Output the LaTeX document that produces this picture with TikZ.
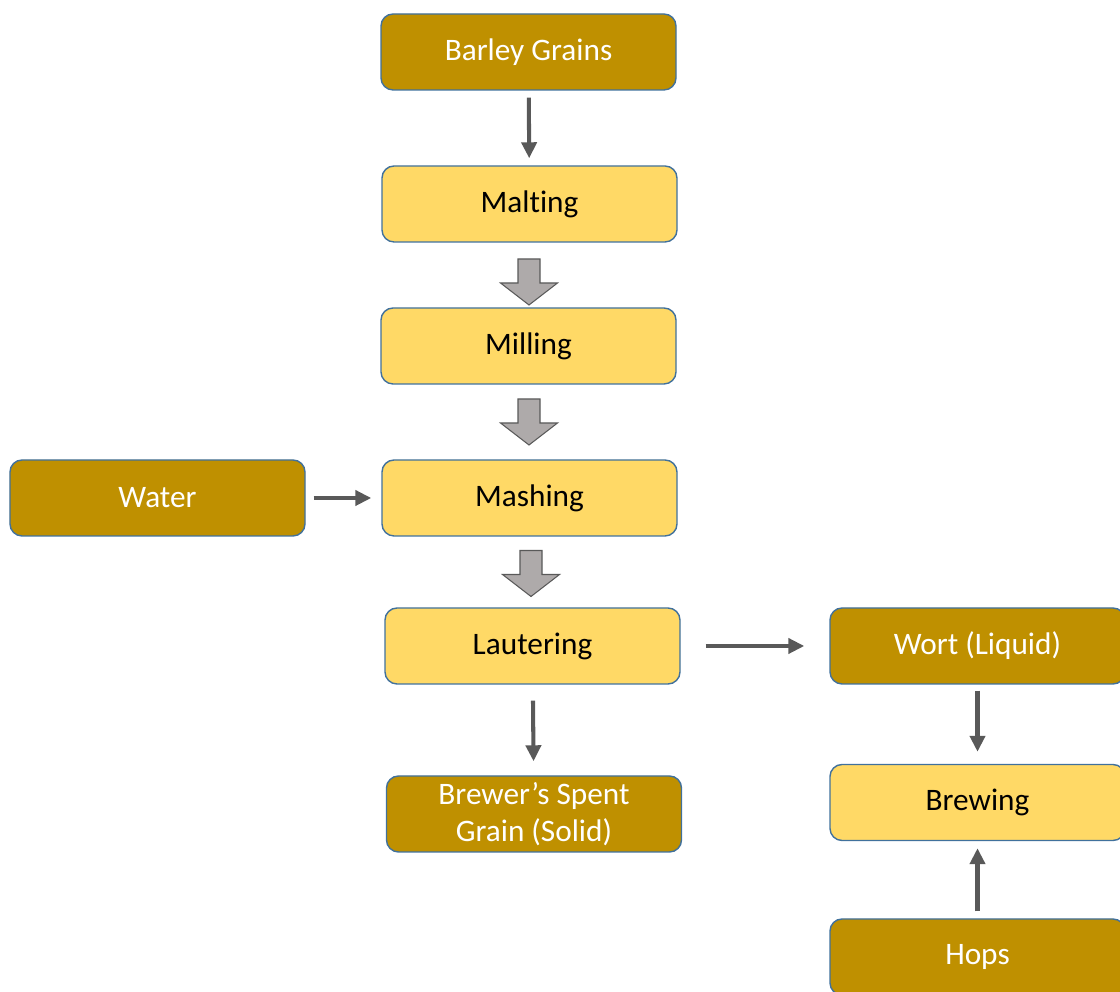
\documentclass[tikz,border=0pt]{standalone}
\usepackage{fontspec}
\setmainfont{Carlito}[Ligatures=NoCommon]
\usetikzlibrary{arrows.meta, positioning, calc}

\definecolor{grain}{HTML}{BF9000}
\definecolor{step}{HTML}{FFD966}
\definecolor{edge}{HTML}{41719C}
\definecolor{flowgray}{HTML}{595959}
\definecolor{blockgray}{HTML}{AEAAAA}

\begin{document}
\begin{tikzpicture}[
  box/.style={draw=edge, line width=0.8pt, rounded corners=0.24cm,
              minimum width=5.9cm, minimum height=1.52cm, align=center,
              font=\fontsize{17.8}{21}\selectfont},
  input/.style={box, fill=grain, text=white},
  stage/.style={box, fill=step, text=black},
  flow/.style={draw=flowgray, line width=2.3pt,
               -{Triangle[length=0.32cm, width=0.3cm]},
               shorten <=0.14cm, shorten >=0.14cm},
  bigarrow/.style={draw=flowgray, line width=0.6pt, fill=blockgray}]
  \useasboundingbox (0,0) rectangle (22.4,19.84);

  % main line
  \node[input] (barley)    at (10.57,18.80) {Barley Grains};
  \node[stage] (malting)   at (10.59,15.76) {Malting};
  \node[stage] (milling)   at (10.57,12.92) {Milling};
  \node[stage] (mashing)   at (10.59,9.88)  {Mashing};
  \node[input] (water)     at (3.15,9.88)   {Water};
  \node[stage] (lautering) at (10.65,6.92)  {Lautering};
  \node[input] (bsg)       at (10.68,3.56)  {Brewer’s Spent\\Grain (Solid)};

  % wort side
  \node[input] (wort)    at (19.55,6.92) {Wort (Liquid)};
  \node[stage] (brewing) at (19.55,3.79) {Brewing};
  \node[input] (hops)    at (19.55,0.70) {Hops};

  % thin arrows
  \draw[flow] (barley) -- (malting);
  \draw[flow, shorten <=0.16cm, shorten >=0.2cm] (water) -- (mashing);
  \draw[flow, shorten <=0.5cm, shorten >=0.5cm] (lautering) -- (wort);
  \draw[flow, shorten <=0.32cm, shorten >=0.28cm] (lautering) -- (bsg);
  \draw[flow, shorten <=0.12cm, shorten >=0.24cm] (wort) -- (brewing);
  \draw[flow] (hops) -- (brewing);

  % block arrows between stages
  \foreach \a/\b/\dy in {malting/milling/-0.14, milling/mashing/0, mashing/lautering/-0.03} {
    \coordinate (mid) at ($(\a.south)!0.5!(\b.north)+(0,\dy)$);
    \draw[bigarrow] ($(mid)+(-0.22,0.46)$) -- ++(0.44,0) -- ++(0,-0.48)
      -- ++(0.35,0) -- ++(-0.57,-0.44) -- ++(-0.57,0.44) -- ++(0.35,0) -- cycle;
  }
\end{tikzpicture}
\end{document}
